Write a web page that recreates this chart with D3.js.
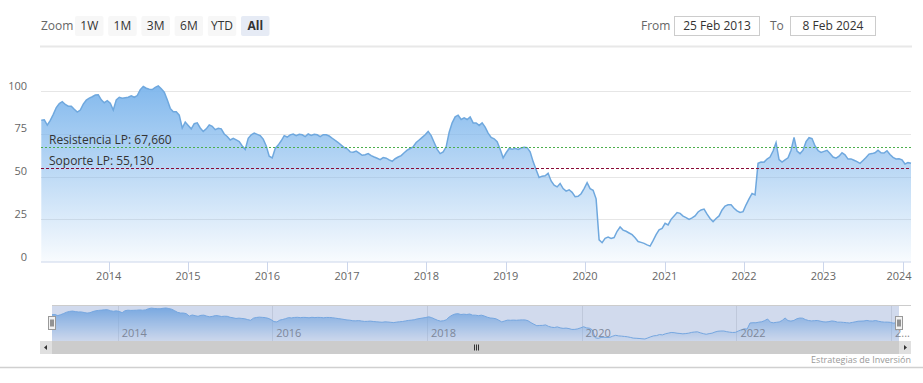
<!DOCTYPE html>
<html>
<head>
<meta charset="utf-8">
<script src="https://cdn.jsdelivr.net/npm/d3@7"></script>
<style>
body { margin: 0; background: #fff; }
svg { font-family: "Open Sans", "Noto Sans", sans-serif; }
</style>
</head>
<body>
<svg width="923" height="383"></svg>
<script>
// series sampled evenly from startDate to endDate
var startDate = "2013-02-25";
var endDate = "2024-02-08";
var values = [
  83, 83.3, 80.2, 83, 86.5, 90.5, 92.8, 93.9, 92.3, 91.3,
  91.3, 89.5, 87.8, 89, 92.5, 94.8, 96, 96.8, 97.8, 98,
  95, 93.3, 94.5, 93, 89, 95, 96.5, 95.9, 96.2, 96.5,
  97.4, 96.5, 97.5, 101, 102.8, 101.8, 101.2, 101, 102.3, 103.2,
  101.5, 99.5, 95, 90, 88, 88, 86, 78.5, 82, 80,
  78, 81, 81.5, 78.5, 76.5, 78, 80.3, 79.5, 77.5, 78.3,
  78, 75, 73.5, 71.5, 72.5, 71.5, 70.5, 68, 66, 72.5,
  74.5, 75.5, 74.8, 74, 72, 68, 62, 61, 66.5, 68.5,
  71, 74, 73.2, 74.5, 75, 74, 74.8, 74.5, 73.5, 75,
  74.2, 74.8, 74.5, 73.5, 74.6, 74.5, 73.8, 72.5, 71.2, 70,
  68.5, 67, 66.3, 64.5, 64.3, 65, 63.8, 62.5, 62.8, 63.5,
  62.3, 61.5, 60.8, 60, 61.2, 60.8, 59.8, 59, 60.5, 61.5,
  62.3, 64, 65.5, 66.5, 67.5, 70, 71.5, 73, 74.5, 76.5,
  74, 70, 66, 63.5, 64.5, 67.5, 76, 81.5, 85, 86,
  83.5, 84.5, 83.5, 85, 81.5, 81.5, 80, 81.5, 79, 75.5,
  73, 72.2, 70.5, 66, 61, 64, 66.5, 66, 66.6, 66,
  66.8, 67.2, 67, 64.5, 58.8, 54, 49.5, 50.3, 50.5, 52,
  47.5, 45, 44, 46, 43, 41.5, 42.3, 40.8, 38.3, 38.5,
  40, 43, 46.5, 43, 42, 37, 13, 11.3, 13.9, 14.6,
  13.8, 14.3, 18, 20.5, 18.7, 18, 17, 16, 14.2, 12,
  11.5, 10.9, 10, 9.3, 12.5, 16, 18.8, 19.7, 22.7, 21.7,
  25, 27, 29, 28.5, 26.9, 26, 25, 25.8, 27, 29.3,
  30.5, 31, 28, 25.5, 23.6, 25.5, 27, 30.5, 32.8, 33.5,
  33.5, 31.5, 30, 29, 29.5, 33.5, 37, 40.2, 39.3, 57.8,
  58.6, 58.5, 60.3, 61.5, 65, 69.9, 60, 58.5, 59.8, 61,
  65.5, 73, 65, 63.5, 65.5, 70.5, 72.8, 72.3, 68, 65.3,
  64.2, 64.8, 65.4, 63.5, 61.5, 60.8, 62, 64, 62.8, 60.3,
  60.4, 59.6, 58.8, 57.8, 59.5, 61.2, 63.2, 63.5, 64, 65.5,
  64, 63.8, 65.2, 63, 61.3, 60.4, 60.5, 59.8, 57.4, 58.2,
  57.8
];
var yTicks = [0, 25, 50, 75, 100];
var zoomButtons = ["1W", "1M", "3M", "6M", "YTD", "All"];
var lineNames = ["Resistencia LP", "Soporte LP"];
var lineValues = [67.66, 55.13];
var lineColors = ["#4caf4c", "#8b0a36"];

var svg = d3.select("svg");
var parse = d3.timeParse("%Y-%m-%d");
var t0 = parse(startDate), t1 = parse(endDate);
var data = values.map(function(v, i) {
  return {date: new Date(+t0 + (t1 - t0) * i / (values.length - 1)), val: v};
});
var esFormat = d3.formatLocale({decimal: ",", thousands: ".", grouping: [3], currency: ["", "€"]}).format(".3f");

// range selector
svg.append("text").attr("x", 41).attr("y", 30).attr("font-size", 12).attr("fill", "#666").text("Zoom");
var btn = svg.selectAll(".btn").data(zoomButtons).enter().append("g")
  .attr("transform", function(d, i) { return "translate(" + (75 + i * 33.2) + ",16)"; });
btn.append("rect").attr("width", 28.5).attr("height", 20).attr("rx", 2)
  .attr("fill", function(d) { return d == "All" ? "#e6ebf5" : "#f7f7f7"; });
btn.append("text").attr("x", 14.25).attr("y", 14).attr("text-anchor", "middle")
  .attr("font-size", 12).attr("fill", "#333")
  .attr("font-weight", function(d) { return d == "All" ? "bold" : "normal"; })
  .text(function(d) { return d; });

var fmtDate = d3.timeFormat("%-d %b %Y");
svg.append("text").attr("x", 641).attr("y", 30).attr("font-size", 12).attr("fill", "#666").text("From");
svg.append("rect").attr("x", 674.5).attr("y", 16.5).attr("width", 85).attr("height", 19).attr("fill", "#fff").attr("stroke", "#ccc");
svg.append("text").attr("x", 717).attr("y", 30).attr("text-anchor", "middle").attr("font-size", 12).attr("fill", "#333").text(fmtDate(t0));
svg.append("text").attr("x", 770).attr("y", 30).attr("font-size", 12).attr("fill", "#666").text("To");
svg.append("rect").attr("x", 790.5).attr("y", 16.5).attr("width", 85).attr("height", 19).attr("fill", "#fff").attr("stroke", "#ccc");
svg.append("text").attr("x", 833).attr("y", 30).attr("text-anchor", "middle").attr("font-size", 12).attr("fill", "#333").text(fmtDate(t1));

svg.append("line").attr("x1", 40).attr("x2", 912).attr("y1", 46.5).attr("y2", 46.5).attr("stroke", "#e8e8e8").attr("stroke-width", 2);

// main chart
var xScale = d3.scaleTime().domain([t0, t1]).range([41.3, 911]);
var yScale = d3.scaleLinear().domain([0, 100]).range([262, 91.3]);

var defs = svg.append("defs");
var grad = defs.append("linearGradient").attr("id", "areaGrad").attr("x1", 0).attr("y1", 0).attr("x2", 0).attr("y2", 1);
grad.append("stop").attr("offset", 0).attr("stop-color", "#7cb5ec").attr("stop-opacity", 0.95);
grad.append("stop").attr("offset", 1).attr("stop-color", "#7cb5ec").attr("stop-opacity", 0.05);

var g = svg.append("g");

g.selectAll(".grid").data(yTicks.filter(function(d) { return d > 0; })).enter().append("line")
  .attr("x1", 41).attr("x2", 911)
  .attr("y1", function(d) { return Math.round(yScale(d)) + 0.5; })
  .attr("y2", function(d) { return Math.round(yScale(d)) + 0.5; })
  .attr("stroke", "#e6e6e6");

g.selectAll(".ylab").data(yTicks).enter().append("text")
  .attr("x", 27).attr("y", function(d) { return yScale(d) - 1.5; })
  .attr("text-anchor", "end").attr("font-size", 11).attr("fill", "#666")
  .text(function(d) { return d; });

var area = d3.area().x(function(d) { return xScale(d.date); }).y0(yScale(0)).y1(function(d) { return yScale(d.val); });
var line = d3.line().x(function(d) { return xScale(d.date); }).y(function(d) { return yScale(d.val); });

g.append("path").datum(data).attr("d", area).attr("fill", "url(#areaGrad)");
g.append("path").datum(data).attr("d", line).attr("fill", "none").attr("stroke", "#6fa8de").attr("stroke-width", 1.5);

// plot lines
lineValues.forEach(function(v, i) {
  var y = Math.round(yScale(v)) + 0.5;
  g.append("line").attr("x1", 41).attr("x2", 911).attr("y1", y).attr("y2", y)
    .attr("stroke", lineColors[i]).attr("stroke-dasharray", i == 0 ? "2,2" : "3,2");
  g.append("text").attr("x", 49).attr("y", y - 3.5).attr("font-size", 12).attr("fill", "#333")
    .text(lineNames[i] + ": " + esFormat(v));
});

// x axis
var xAxis = g.append("g").attr("transform", "translate(0,262)");
xAxis.append("line").attr("x1", 41).attr("x2", 911).attr("stroke", "#ccd6eb");
var years = xScale.ticks(d3.timeYear.every(1));
xAxis.selectAll(".tick").data(years).enter().append("line")
  .attr("x1", function(d) { return Math.round(xScale(d)) + 0.5; })
  .attr("x2", function(d) { return Math.round(xScale(d)) + 0.5; })
  .attr("y1", 0).attr("y2", 10).attr("stroke", "#ccd6eb");
xAxis.selectAll(".xlab").data(years).enter().append("text")
  .attr("x", function(d) { return Math.min(xScale(d), 899); })
  .attr("y", 18).attr("text-anchor", "middle").attr("font-size", 11).attr("fill", "#666")
  .text(d3.timeFormat("%Y"));

// navigator
var nx = d3.scaleTime().domain([t0, t1]).range([52, 899]);
var ny = d3.scaleLinear().domain(d3.extent(values)).range([339, 308]);
var nav = svg.append("g");
nav.append("rect").attr("x", 52).attr("y", 305).attr("width", 847).attr("height", 36).attr("fill", "#fff");
var navTicks = nx.ticks(d3.timeYear.every(2));
nav.selectAll(".ng").data(navTicks).enter().append("line")
  .attr("x1", function(d) { return Math.round(nx(d)) + 0.5; })
  .attr("x2", function(d) { return Math.round(nx(d)) + 0.5; })
  .attr("y1", 305).attr("y2", 341).attr("stroke", "#e6e6e6");
var navArea = d3.area().x(function(d) { return nx(d.date); }).y0(341).y1(function(d) { return ny(d.val); });
var navLine = d3.line().x(function(d) { return nx(d.date); }).y(function(d) { return ny(d.val); });
nav.append("path").datum(data).attr("d", navArea).attr("fill", "url(#areaGrad)");
nav.append("path").datum(data).attr("d", navLine).attr("fill", "none").attr("stroke", "#7cb5ec").attr("stroke-width", 1);
nav.selectAll(".nl").data(navTicks).enter().append("text")
  .attr("x", function(d) { return nx(d) + 4; }).attr("y", 337)
  .attr("font-size", 11).attr("fill", "#888")
  .text(function(d) {
    var s = d3.timeFormat("%Y")(d);
    return nx(d) + 30 > 911 ? s.charAt(0) + "..." : s;
  });
nav.append("rect").attr("x", 52).attr("y", 305).attr("width", 847).attr("height", 36).attr("fill", "rgba(102,133,194,0.3)");
nav.append("line").attr("x1", 52).attr("x2", 911).attr("y1", 305.5).attr("y2", 305.5).attr("stroke", "#ccc");

// handles
[52, 899].forEach(function(x) {
  var h = nav.append("g").attr("transform", "translate(" + (Math.round(x) - 3.5) + ",316.5)");
  h.append("rect").attr("width", 7).attr("height", 13).attr("fill", "#f2f2f2").attr("stroke", "#999");
  h.append("line").attr("x1", 2.5).attr("x2", 2.5).attr("y1", 3).attr("y2", 10).attr("stroke", "#333");
  h.append("line").attr("x1", 4.5).attr("x2", 4.5).attr("y1", 3).attr("y2", 10).attr("stroke", "#333");
});

// scrollbar
var sb = svg.append("g");
sb.append("rect").attr("x", 40).attr("y", 341).attr("width", 871).attr("height", 13).attr("fill", "#cccccc");
sb.append("rect").attr("x", 40).attr("y", 341).attr("width", 12).attr("height", 13).attr("fill", "#e0e0e0");
sb.append("rect").attr("x", 899).attr("y", 341).attr("width", 12).attr("height", 13).attr("fill", "#e0e0e0");
sb.append("path").attr("d", "M47,345 L44,347.5 L47,350 Z").attr("fill", "#333");
sb.append("path").attr("d", "M904,345 L907,347.5 L904,350 Z").attr("fill", "#333");
[-2, 0, 2].forEach(function(o) {
  sb.append("line").attr("x1", 476.5 + o).attr("x2", 476.5 + o).attr("y1", 344.5).attr("y2", 350.5).attr("stroke", "#333");
});

svg.append("text").attr("x", 911).attr("y", 363).attr("text-anchor", "end").attr("font-size", 9).attr("fill", "#999")
  .text("Estrategias de Inversión");
svg.append("line").attr("x1", 0).attr("x2", 923).attr("y1", 367.5).attr("y2", 367.5).attr("stroke", "#d0d0d0").attr("stroke-width", 1.5);
</script>
</body>
</html>
